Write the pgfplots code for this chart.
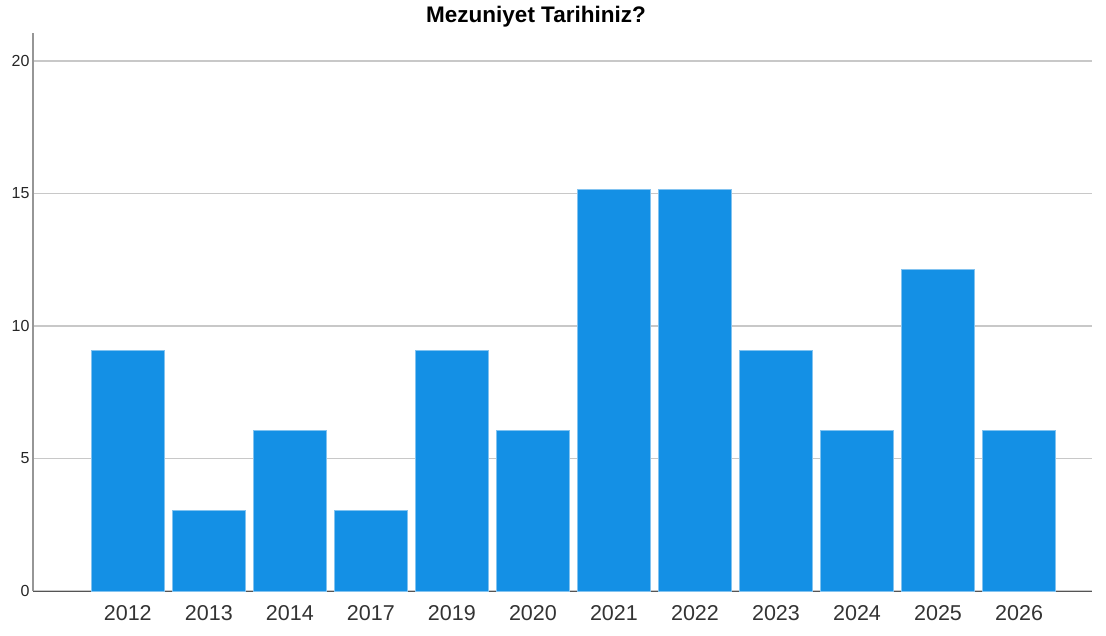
\documentclass[border=0pt]{standalone}
\usepackage{pgfplots}
\pgfplotsset{compat=1.18}
\usepackage{fontspec}
\setmainfont{Liberation Sans}
\definecolor{barblue}{RGB}{20,144,229}
\definecolor{baredge}{RGB}{130,195,240}
\definecolor{gridgray}{RGB}{200,200,200}
\definecolor{yaxgray}{RGB}{150,150,150}
\definecolor{xaxgray}{RGB}{85,85,85}
\begin{document}
\begin{tikzpicture}[x=1pt,y=1pt]
\useasboundingbox (-33,-44) rectangle (1073,591);
\begin{axis}[
  at={(0,0)}, anchor=south west,
  scale only axis, width=1059pt, height=558pt,
  xmin=-1.17, xmax=11.9, ymin=0, ymax=21.06,
  xtick={0,...,11},
  xticklabels={2012,2013,2014,2017,2019,2020,2021,2022,2023,2024,2025,2026},
  ytick={0,5,10,15,20},
  /pgf/number format/assume math mode=true,
  xticklabel style={font=\fontsize{21.5}{21.5}\selectfont, text=black!80, yshift=-11pt},
  yticklabel style={font=\fontsize{16}{16}\selectfont, text=black!85, xshift=0pt},
  major tick length=0pt,
  ymajorgrids, grid style={gridgray, line width=1.2pt},
  axis x line*=bottom, axis y line*=left,
  x axis line style={xaxgray, line width=1pt, -},
  y axis line style={yaxgray, line width=1.2pt, -},
  axis line style={-},
  ybar, bar width=0.9,
  title={\bfseries Mezuniyet Tarihiniz?},
  title style={font=\fontsize{22.5}{22.5}\selectfont, at={(0.475,1)}, anchor=south, yshift=-4pt},
]
\addplot[fill=barblue, draw=baredge, line width=0.8pt] coordinates {
(0,9.09) (1,3.03) (2,6.06) (3,3.03) (4,9.09) (5,6.06) (6,15.15) (7,15.15) (8,9.09) (9,6.06) (10,12.12) (11,6.06)
};
\end{axis}
\end{tikzpicture}
\end{document}
